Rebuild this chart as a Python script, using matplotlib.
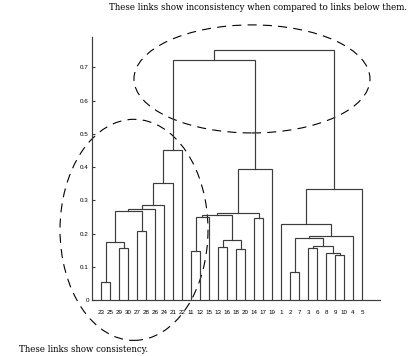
import matplotlib
matplotlib.use("Agg")
import matplotlib.pyplot as plt
from matplotlib.patches import Ellipse
import numpy as np

# leaves in the order they are shown along the x axis
leaf_labels = [23, 25, 29, 30, 27, 28, 26, 24, 21, 22, 11, 12, 15, 13, 16,
               18, 20, 14, 17, 19, 1, 2, 7, 3, 6, 8, 9, 10, 4, 5]

# linkage: index < 30 -> observation (label - 1), index >= 30 -> earlier merge
merge_left = [22, 1, 8, 7, 10, 17, 28, 2, 12, 37, 30, 38, 31, 42, 26,
              0, 13, 34, 47, 48, 40, 50, 51, 45, 52, 54, 49, 55, 57]
merge_right = [24, 6, 9, 32, 11, 19, 29, 5, 15, 33, 36, 35, 39, 3, 27,
               43, 16, 14, 41, 46, 44, 25, 23, 4, 20, 21, 18, 56, 53]
merge_height = [0.053, 0.083, 0.134, 0.140, 0.147, 0.153, 0.156, 0.157, 0.159,
                0.161, 0.174, 0.180, 0.186, 0.193, 0.208, 0.228, 0.246, 0.249,
                0.257, 0.261, 0.268, 0.273, 0.285, 0.333, 0.351, 0.450, 0.393,
                0.722, 0.752]

y_ticks = [0, 0.1, 0.2, 0.3, 0.4, 0.5, 0.6, 0.7]
y_tick_labels = ["0", "0.1", "0.2", "0.3", "0.4", "0.5", "0.6", "0.7"]

note_top = "These links show inconsistency when compared to links below them."
note_bottom = "These links show consistency."

plt.rcParams["lines.scale_dashes"] = False
line_col = "#3c3c3c"

fig = plt.figure(figsize=(4.17, 3.56), dpi=100)
ax = fig.add_axes([0.2213, 0.1573, 0.69, 0.7396])

n = len(leaf_labels)
xpos = {}
ypos = {}
for i, lab in enumerate(leaf_labels):
    xpos[lab - 1] = i + 1
    ypos[lab - 1] = 0.0

for k in range(len(merge_height)):
    a, b, h = merge_left[k], merge_right[k], merge_height[k]
    xa, xb = xpos[a], xpos[b]
    ax.plot([xa, xa, xb, xb], [ypos[a], h, h, ypos[b]], color=line_col, lw=0.85,
            solid_joinstyle="miter")
    xpos[n + k] = (xa + xb) / 2.0
    ypos[n + k] = h

ax.set_xlim(0, 32)
ax.set_ylim(0, 0.792)
ax.spines["top"].set_visible(False)
ax.spines["right"].set_visible(False)
ax.spines["left"].set_color(line_col)
ax.spines["bottom"].set_color(line_col)
ax.spines["left"].set_linewidth(0.85)
ax.spines["bottom"].set_linewidth(0.85)

ax.set_yticks(y_ticks)
ax.set_yticklabels(y_tick_labels, fontsize=4.5, family="Liberation Sans")
ax.tick_params(axis="y", direction="in", length=2, width=0.8, pad=2.5,
               color=line_col)
ax.set_xticks(np.arange(1, n + 1))
ax.set_xticklabels([str(l) for l in leaf_labels], fontsize=4.5,
                   family="Liberation Sans")
ax.tick_params(axis="x", length=0, pad=7)

# dashed rings round the two groups of links
dash = (0, (6.5, 4.5))
ax.add_patch(Ellipse((17.76, 0.665), 26.25, 0.325, fill=False, ec="black",
                     lw=0.8, ls=dash, clip_on=False))
ax.add_patch(Ellipse((4.64, 0.211), 16.46, 0.665, fill=False, ec="black",
                     lw=0.8, ls=dash, clip_on=False))

fig.text(0.262, 0.9795, note_top, fontsize=6.2, family="DejaVu Serif",
         va="center", ha="left")
fig.text(0.0456, 0.0169, note_bottom, fontsize=6.2, family="DejaVu Serif",
         va="center", ha="left")

fig.savefig("out.png", dpi=100)
